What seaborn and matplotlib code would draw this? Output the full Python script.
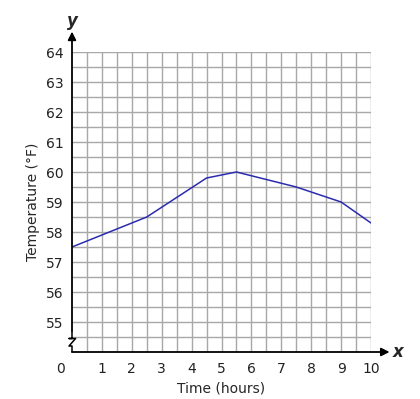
import matplotlib
matplotlib.use("Agg")
import matplotlib.pyplot as plt
import seaborn as sns
import pandas as pd
import numpy as np

# data
time_hours = [0, 2.5, 4.5, 5.5, 7.5, 9, 10]
temperature_f = [57.5, 58.5, 59.8, 60.0, 59.5, 59.0, 58.3]
x_ticks = list(range(0, 11))
y_ticks = list(range(55, 65))

df = pd.DataFrame({"Time (hours)": time_hours, "Temperature (°F)": temperature_f})

sns.set_style("white")
plt.rcParams["font.family"] = ["DejaVu Sans"]

fig = plt.figure(figsize=(4.2, 3.99), dpi=100)
ax = fig.add_axes([72 / 420, 47 / 399, 299 / 420, 300 / 399])

# grid every half unit
for gx in np.arange(0.5, 10.01, 0.5):
    ax.axvline(gx, color="#a8a8a8", lw=1, zorder=0)
for gy in np.arange(54.5, 64.01, 0.5):
    ax.axhline(gy, color="#a8a8a8", lw=1, zorder=0)

sns.lineplot(data=df, x="Time (hours)", y="Temperature (°F)", color="#2b2bb0",
             lw=1.1, ax=ax, zorder=3)

ax.set_xlim(0, 10)
ax.set_ylim(54, 64)
ax.set_xticks(x_ticks)
ax.set_yticks(y_ticks)
# the 0 label sits left of the origin, drawn separately below
ax.set_xticklabels([""] + [str(t) for t in x_ticks[1:]])
ax.tick_params(length=0, labelsize=10, colors="#222222", pad=7)
ax.tick_params(axis="y", pad=6)
ax.text(-0.37, 53.43, "0", ha="center", va="center", fontsize=10,
        color="#222222", clip_on=False)

ax.set_xlabel("Time (hours)", fontsize=10, labelpad=4)
ax.set_ylabel("Temperature (°F)", fontsize=10, labelpad=4)

for s in ["top", "right", "left", "bottom"]:
    ax.spines[s].set_visible(False)

# axes with arrows
ax.annotate("", xy=(10.62, 54), xytext=(0, 54),
            arrowprops=dict(arrowstyle="-|>", color="black", lw=1.3,
                            mutation_scale=12, shrinkA=0, shrinkB=0),
            annotation_clip=False)
ax.annotate("", xy=(0, 64.68), xytext=(0, 54.7),
            arrowprops=dict(arrowstyle="-|>", color="black", lw=1.3,
                            mutation_scale=12, shrinkA=0, shrinkB=0),
            annotation_clip=False)
# axis break zigzag
ax.plot([0, 0, -0.1, 0.12, -0.1, 0, 0], [54, 54.2, 54.2, 54.45, 54.45, 54.45, 54.7],
        color="black", lw=1.1, clip_on=False, zorder=4)

ax.text(10.9, 54, "x", fontsize=12, fontweight="bold", fontstyle="italic",
        ha="center", va="center", clip_on=False)
ax.text(0, 65.05, "y", fontsize=12, fontweight="bold", fontstyle="italic",
        ha="center", va="center", clip_on=False)

fig.savefig("out.png", dpi=100)
